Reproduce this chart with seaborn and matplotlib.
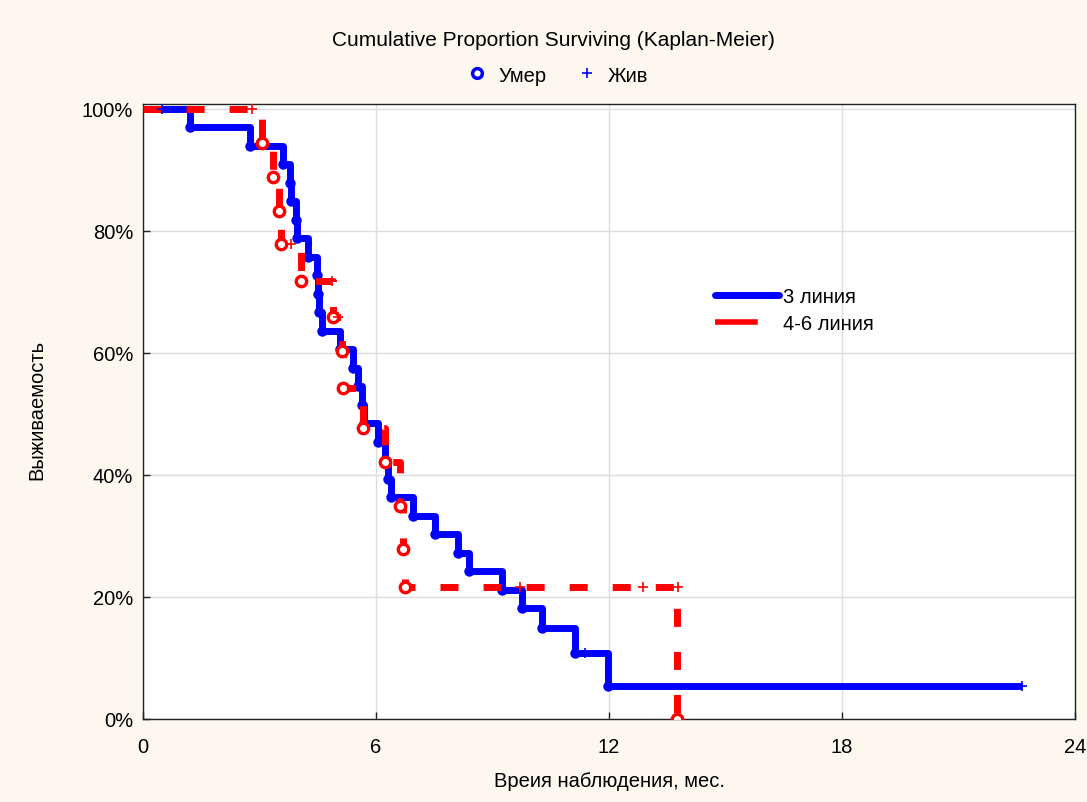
import matplotlib
matplotlib.use("Agg")
import matplotlib.pyplot as plt
import seaborn as sns
import pandas as pd
from matplotlib.lines import Line2D
from matplotlib.ticker import FixedLocator, FuncFormatter

# ---------------- data ----------------
# group "3 линия": step times (months) and survival (%) after each step
blue_times = [0, 1.2, 2.76, 3.6, 3.78, 3.80, 3.93, 3.97, 4.25, 4.48, 4.50, 4.53,
              4.61, 5.07, 5.40, 5.53, 5.65, 5.70, 6.05, 6.22, 6.32, 6.38, 6.95,
              7.52, 8.11, 8.40, 9.25, 9.76, 10.28, 11.13, 11.98, 22.64]
blue_surv = [100, 96.97, 93.94, 90.91, 87.88, 84.85, 81.82, 78.79, 75.76, 72.73,
             69.70, 66.67, 63.64, 60.61, 57.58, 54.55, 51.52, 48.48, 45.45, 42.42,
             39.39, 36.36, 33.33, 30.30, 27.27, 24.24, 21.21, 18.18, 14.9, 10.8,
             5.45, 5.45]
blue_cens_t = [0.5, 11.38, 22.64]
blue_cens_s = [100, 10.8, 5.45]

# group "4-6 линия"
red_times = [0, 3.06, 3.35, 3.50, 3.55, 4.07, 4.89, 5.12, 5.15, 5.67, 6.22,
             6.62, 6.70, 6.75, 13.75]
red_surv = [100, 94.44, 88.89, 83.33, 77.78, 71.8, 65.9, 60.3, 54.3, 47.7,
            42.1, 34.9, 27.9, 21.6, 0]
red_cens_t = [2.8, 3.8, 4.86, 5.02, 9.71, 12.88, 13.78]
red_cens_s = [100, 77.78, 71.8, 65.9, 21.6, 21.6, 21.6]

series_labels = ["3 линия", "4-6 линия"]
marker_labels = ["Умер", "Жив"]
x_ticks = [0, 6, 12, 18, 24]
y_ticks = [0, 20, 40, 60, 80, 100]

title = "Cumulative Proportion Surviving (Kaplan-Meier)"
x_label = "Вреия наблюдения, мес."
y_label = "Выживаемость"

BLUE = "#0000FF"
RED = "#FF0000"
BG = "#FDF8EE"

# ---------------- figure ----------------
sns.set_theme(style="white")
plt.rcParams["font.family"] = ["Liberation Sans", "DejaVu Sans"]
plt.rcParams["text.color"] = "black"
plt.rcParams["xtick.color"] = "black"
plt.rcParams["ytick.color"] = "black"
FS = 14.5

W, H = 1087, 803
fig = plt.figure(figsize=(W / 100, H / 100), dpi=100, facecolor=BG)
L, R, T, B = 143, 1075, 105, 720
ax = fig.add_axes([L / W, 1 - B / H, (R - L) / W, (B - T) / H])
ax.set_facecolor("white")

blue_df = pd.DataFrame({"t": blue_times, "s": blue_surv})
red_df = pd.DataFrame({"t": red_times, "s": red_surv})
blue_ev = blue_df.iloc[1:-1]
red_ev = red_df.iloc[1:]
blue_c = pd.DataFrame({"t": blue_cens_t, "s": blue_cens_s})
red_c = pd.DataFrame({"t": red_cens_t, "s": red_cens_s})

common = dict(x="t", y="s", estimator=None, sort=False, ax=ax, legend=False)

# blue step curve + event dots + censor crosses
sns.lineplot(data=blue_df, drawstyle="steps-post", color=BLUE, lw=5,
             solid_joinstyle="round", solid_capstyle="butt", zorder=3, **common)
sns.lineplot(data=blue_ev, linestyle="none", marker="o", markersize=7.5,
             markerfacecolor=BLUE, markeredgecolor=BLUE, markeredgewidth=0,
             color=BLUE, zorder=4, **common)
sns.lineplot(data=blue_c, linestyle="none", marker="+", markersize=7,
             markeredgewidth=1.2, markeredgecolor=BLUE, color=BLUE, zorder=7,
             **common)

# red dashed step curve + hollow circles + censor crosses
sns.lineplot(data=red_df, drawstyle="steps-post", color=RED, lw=5,
             linestyle=(0, (2.6, 3.6)), dash_capstyle="butt", zorder=5, **common)
sns.lineplot(data=red_ev, linestyle="none", marker="o", markersize=7.5,
             markerfacecolor="white", markeredgecolor=RED, markeredgewidth=2.4,
             color=RED, zorder=6, **common)
sns.lineplot(data=red_c, linestyle="none", marker="+", markersize=7,
             markeredgewidth=1.2, markeredgecolor=RED, color=RED, zorder=7,
             **common)

# axes styling
ax.set_xlim(0, 24)
ax.set_ylim(0, 100.8)
ax.xaxis.set_major_locator(FixedLocator(x_ticks))
ax.yaxis.set_major_locator(FixedLocator(y_ticks))
ax.yaxis.set_major_formatter(FuncFormatter(lambda v, p: f"{v:.0f}%"))
ax.grid(True, color="#DDDDDD", lw=1, zorder=0)
ax.set_axisbelow(True)
for sp in ax.spines.values():
    sp.set_visible(True)
    sp.set_color("#222222")
    sp.set_linewidth(1)
ax.tick_params(axis="both", direction="in", length=5, width=1, color="#222222",
               labelsize=FS, labelcolor="black")
ax.tick_params(axis="y", pad=7, left=True)
ax.tick_params(axis="x", pad=13, bottom=True)
ax.set_xlabel("")
ax.set_ylabel("")

# inner legend
h_blue = Line2D([0], [0], color=BLUE, lw=5)
h_red = Line2D([0], [0], color=RED, lw=4, linestyle=(0, (7.7, 6)))
ax.legend([h_blue, h_red], series_labels, loc="upper left",
          bbox_to_anchor=((715 - L) / (R - L), (B - 288) / (B - T)),
          frameon=False, fontsize=FS, handlelength=3.2, handletextpad=0.2,
          labelspacing=0.38, borderpad=0, borderaxespad=0)

# top legend with marker meaning
hm1 = Line2D([], [], marker="o", linestyle="none", markerfacecolor="white",
             markeredgecolor=BLUE, markeredgewidth=2.5, markersize=7)
hm2 = Line2D([], [], marker="+", linestyle="none", color=BLUE,
             markersize=7, markeredgewidth=1.2)
fig.legend([hm1, hm2], marker_labels, ncol=2, loc="center",
           bbox_to_anchor=(558 / W, 1 - 76 / H), frameon=False, fontsize=FS,
           handlelength=1.0, handletextpad=0.55, columnspacing=1.5)

# texts
fig.text(553 / W, 1 - 41 / H, title, ha="center", va="center", fontsize=FS + 0.5)
fig.text(610 / W, 1 - 782 / H, x_label, ha="center", va="center", fontsize=FS)
fig.text(37 / W, 1 - 410 / H, y_label, ha="center", va="center", fontsize=FS,
         rotation=90)

fig.savefig("out.png", dpi=100, facecolor=BG)
